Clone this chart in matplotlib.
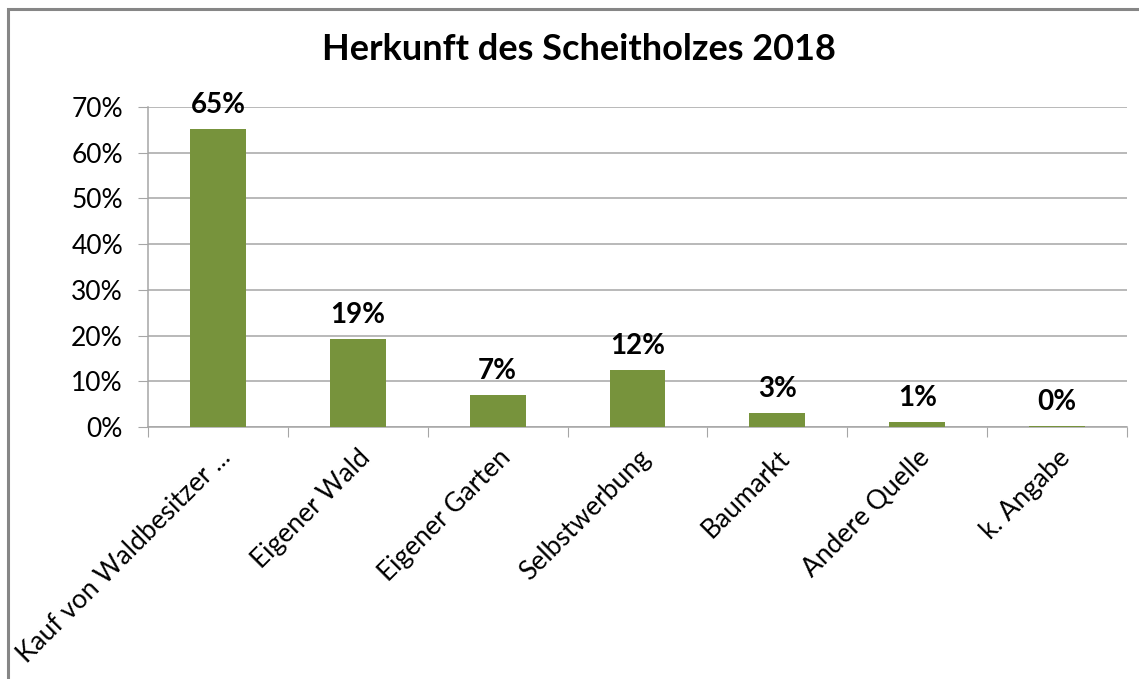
import matplotlib.pyplot as plt
import matplotlib.patches as mpatches
from matplotlib.transforms import ScaledTranslation
import numpy as np

categories = ['Kauf von Waldbesitzer ...', 'Eigener Wald', 'Eigener Garten',
              'Selbstwerbung', 'Baumarkt', 'Andere Quelle', 'k. Angabe']
shares = [65.2, 19.3, 6.9, 12.4, 3.0, 1.1, 0.3]
y_ticks = [0, 10, 20, 30, 40, 50, 60, 70]

plt.rcParams['font.family'] = ['Lato', 'DejaVu Sans']

bar_color = '#77933C'
grid_color = '#A6A6A6'

fig = plt.figure(figsize=(11.39, 6.79), dpi=100)
fig.patches.append(mpatches.Rectangle((8 / 1139, -0.1), 1.2, 1 - 9 / 679 + 0.1,
                                      transform=fig.transFigure, fill=False,
                                      edgecolor='#868686', linewidth=2.2))

ax = fig.add_axes([148 / 1139, 1 - 427 / 679, (1127 - 148) / 1139, (427 - 107) / 679])
x = np.arange(len(categories))
bars = ax.bar(x, shares, width=0.4, color=bar_color, zorder=3)

for xi, v in zip(x, shares):
    ax.annotate(f'{v:.0f}%', (xi, v), xytext=(0, 8), textcoords='offset points',
                ha='center', va='bottom', fontsize=20, fontweight='bold')

ax.set_ylim(0, 70)
ax.set_xlim(-0.5, len(categories) - 0.5)
ax.set_yticks(y_ticks)
ax.set_yticklabels([f'{t}%' for t in y_ticks], fontsize=19)
ax.yaxis.grid(True, color=grid_color, linewidth=1.1, zorder=0)

ax.set_xticks(np.arange(len(categories) + 1) - 0.5)
ax.set_xticklabels([])
ax.set_xticks(x, minor=True)
ax.set_xticklabels(categories, minor=True, rotation=45, ha='right', va='top',
                   rotation_mode='anchor', fontsize=19)
shift = ScaledTranslation(8 / 72, 0, fig.dpi_scale_trans)
for lbl in ax.get_xticklabels(minor=True):
    lbl.set_transform(lbl.get_transform() + shift)
ax.tick_params(axis='x', which='minor', length=0, pad=13)
ax.tick_params(axis='x', which='major', length=7, color=grid_color, direction='out')
ax.tick_params(axis='y', length=7, color=grid_color, pad=11)

for s in ['top', 'right']:
    ax.spines[s].set_visible(False)
for s in ['left', 'bottom']:
    ax.spines[s].set_color(grid_color)
    ax.spines[s].set_linewidth(1.1)

fig.text(579 / 1139, 1 - 50 / 679, 'Herkunft des Scheitholzes 2018', ha='center',
         va='center', fontsize=26, fontweight='bold')

fig.savefig('out.png', dpi=100)
